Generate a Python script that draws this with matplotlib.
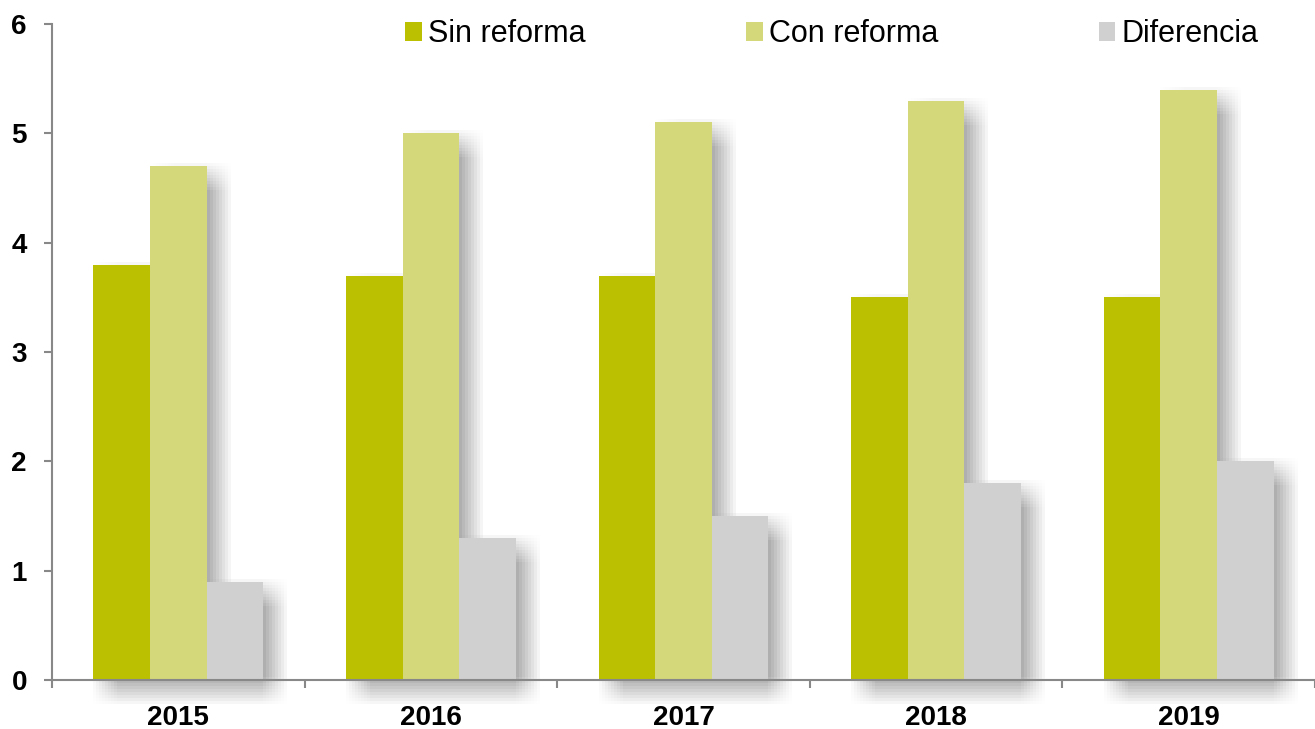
import numpy as np
import matplotlib.pyplot as plt
import matplotlib.patheffects as pe
from matplotlib.patches import Patch
from matplotlib.ticker import FixedLocator

plt.rcParams['font.family'] = ['Liberation Sans', 'DejaVu Sans']

years = ['2015', '2016', '2017', '2018', '2019']
sin_reforma = [3.8, 3.7, 3.7, 3.5, 3.5]
con_reforma = [4.7, 5.0, 5.1, 5.3, 5.4]
diferencia = [0.9, 1.3, 1.5, 1.8, 2.0]

series = [('Sin reforma', sin_reforma, '#BBC000'),
          ('Con reforma', con_reforma, '#D4D77A'),
          ('Diferencia', diferencia, '#D0D0D0')]

# soft drop shadow: many faint offset copies (offsets given in px, converted to pt)
shadow = []
for dx in range(0, 25, 3):
    for dy in range(-3, 25, 3):
        shadow.append(pe.SimplePatchShadow(offset=(dx * 0.72, -dy * 0.72),
                                           shadow_rgbFace='black', alpha=0.0035))
shadow.append(pe.Normal())

fig = plt.figure(figsize=(13.15, 7.29), dpi=100)
ax = fig.add_axes([0.0395, 0.067, 0.9605, 0.9])

x = np.arange(len(years))
w = 0.224
for i, (name, vals, col) in enumerate(series):
    bars = ax.bar(x + (i - 1) * w, vals, w, color=col, label=name,
                  clip_on=False, linewidth=0)
    for b in bars:
        b.set_path_effects(shadow)

ax.set_xlim(-0.5, 4.5)
ax.set_ylim(0, 6)
ax.set_yticks(range(7))
ax.set_xticks(x)
ax.set_xticklabels(years)
ax.xaxis.set_minor_locator(FixedLocator(np.arange(-0.5, 5, 1)))
ax.tick_params(axis='x', which='major', length=0, pad=18)
ax.tick_params(axis='x', which='minor', length=6, width=1.5, color='#888888', direction='out')
ax.tick_params(axis='y', length=6, width=1.5, color='#888888', pad=12)
for lbl in ax.get_xticklabels() + ax.get_yticklabels():
    lbl.set_fontsize(20)
    lbl.set_fontweight('bold')

for s in ['top', 'right']:
    ax.spines[s].set_visible(False)
for s in ['left', 'bottom']:
    ax.spines[s].set_color('#888888')
    ax.spines[s].set_linewidth(1.5)

handles = [Patch(facecolor=col, linewidth=0, label=name) for name, vals, col in series]
fig.legend(handles=handles, loc='center left', bbox_to_anchor=(0.308, 0.953), ncol=3,
           frameon=False, fontsize=22, handlelength=0.55, handleheight=0.6,
           handletextpad=0.2, columnspacing=5.25, borderpad=0, borderaxespad=0)

fig.savefig('out.png', dpi=100)
